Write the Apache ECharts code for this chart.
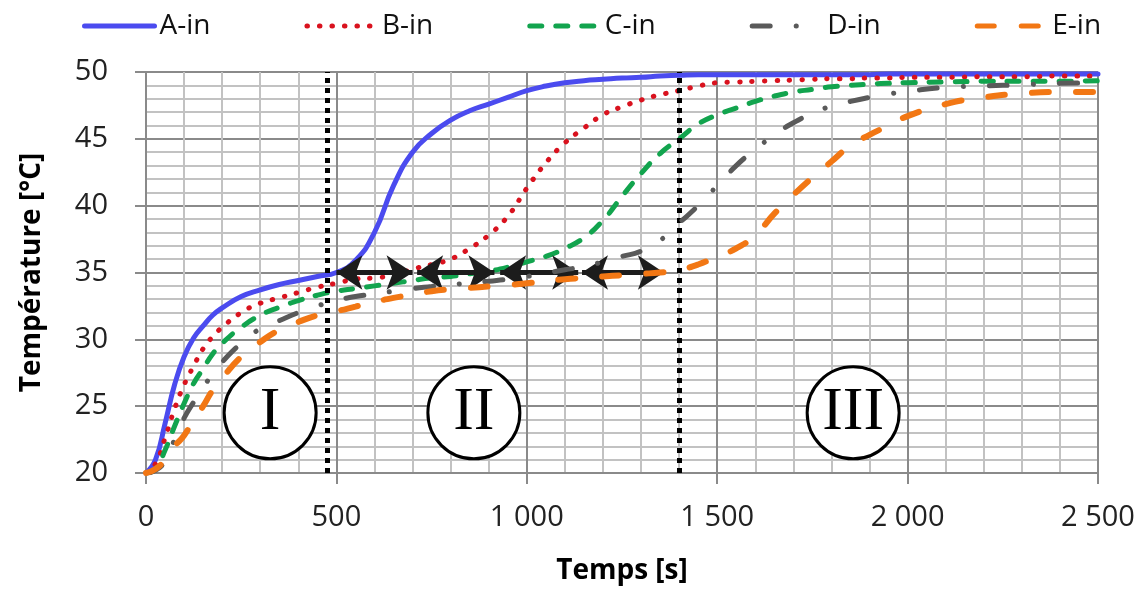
<!DOCTYPE html>
<html>
<head>
<meta charset="utf-8">
<script src="https://cdn.jsdelivr.net/npm/echarts@6/dist/echarts.min.js"></script>
<style>html,body{margin:0;padding:0;background:#fff}#c{width:1145px;height:590px}</style>
</head>
<body>
<div id="c"></div>
<script>
const times = [0,25,50,75,100,125,150,175,200,
  250,300,350,400,450,500,550,600,650,700,750,800,850,900,950,1000,1050,1100,1150,1200,
  1250,1300,1350,1400,1450,1500,1550,1600,1650,1700,1750,1800,1850,1900,1950,2000,
  2100,2200,2300,2400,2500];
const tempA = [20.0,21.0,23.7,26.6,28.7,30.1,31.0,31.8,32.35,
  33.2,33.7,34.1,34.4,34.7,35.0,35.9,38.0,41.5,44.0,45.4,46.4,47.1,47.6,48.1,48.6,48.95,49.2,49.35,49.45,
  49.55,49.6,49.7,49.75,49.8,49.8,49.8,49.8,49.8,49.8,49.8,49.8,49.8,49.8,49.85,49.85,
  49.85,49.85,49.85,49.85,49.85];
const tempB = [20.0,20.7,22.6,24.8,26.6,28.0,29.3,30.2,30.9,
  32.0,32.7,33.1,33.5,33.9,34.2,34.5,34.6,34.8,35.25,35.6,36.0,36.8,37.8,39.2,41.3,43.2,44.7,45.8,46.8,
  47.4,47.9,48.3,48.6,48.95,49.2,49.25,49.3,49.35,49.4,49.45,49.5,49.5,49.55,49.55,49.6,
  49.6,49.65,49.65,49.7,49.7];
const tempC = [20.0,20.3,21.7,23.5,25.2,26.7,27.8,28.9,29.7,
  30.9,31.8,32.4,32.9,33.3,33.6,33.8,34.0,34.2,34.4,34.6,34.7,34.9,35.1,35.4,35.8,36.2,36.8,37.6,38.9,
  40.7,42.4,43.9,45.0,46.1,46.8,47.3,47.8,48.2,48.5,48.7,48.9,49.0,49.1,49.15,49.2,
  49.25,49.3,49.3,49.3,49.35];
const tempD = [20.0,20.2,20.9,22.5,24.1,25.3,26.4,27.4,28.3,
  29.7,30.8,31.4,32.0,32.5,32.9,33.2,33.4,33.6,33.8,33.95,34.1,34.2,34.35,34.5,34.7,34.95,35.2,35.45,35.8,
  36.2,36.6,37.4,38.7,40.0,41.5,43.0,44.2,45.3,46.2,46.9,47.45,47.8,48.1,48.35,48.55,
  48.85,48.95,49.05,49.15,49.2];
const tempE = [20.0,20.3,21.0,22.0,22.8,24.0,25.0,26.2,27.1,
  28.7,29.8,30.7,31.3,31.8,32.1,32.45,32.8,33.1,33.35,33.6,33.75,33.85,33.95,34.05,34.2,34.35,34.5,34.6,34.7,
  34.8,34.9,35.0,35.2,35.6,36.2,36.8,37.8,39.4,40.8,42.1,43.3,44.5,45.3,46.0,46.7,
  47.6,48.1,48.4,48.5,48.5];
const seriesNames = ['A-in','B-in','C-in','D-in','E-in'];
const phaseBounds = [475, 1400];
const arrowLevel = 35;
const arrowSpans = [[500,700],[712,915],[930,1135],[1145,1360]];
const phaseLabels = ['I','II','III'];
const phaseCenters = [326, 861, 1857];
const phaseLevel = 24.5;
const xTitle = 'Temps [s]';
const yTitle = 'Température [°C]';

const allTemps = [tempA, tempB, tempC, tempD, tempE];
const styles = [
  {color:'#4B4BEF', width:5, type:'solid'},
  {color:'#D9121E', width:5, type:[0.5,12]},
  {color:'#12A44E', width:5, type:[12,14]},
  {color:'#5A5A5A', width:5, type:[18,26,0.1,26]},
  {color:'#F27714', width:6, type:[17,27]}
];

const chart = echarts.init(document.getElementById('c'));
const lineSeries = seriesNames.map((n,k)=>({
  name:n, type:'line', symbol:'none', smooth:0.5,
  data: times.map((t,i)=>[t, allTemps[k][i]]),
  lineStyle:{color:styles[k].color, width:styles[k].width, type:styles[k].type, cap:'round'},
  itemStyle:{color:styles[k].color},
  z: 2 + k
}));

const fmtThousands = v => String(v).replace(/\B(?=(\d{3})+(?!\d))/g, ' ');

chart.setOption({
  animation:false,
  textStyle:{fontFamily:'Open Sans'},
  legend:{
    data: seriesNames, left:82, top:12, itemWidth:70, itemHeight:14, itemGap:94, padding:0,
    itemStyle:{opacity:0},
    lineStyle:{width:5},
    textStyle:{fontSize:28, color:'#111', fontFamily:'Open Sans'}
  },
  grid:{left:146, right:47, top:72, bottom:117},
  xAxis:{
    type:'value', min:0, max:2500, interval:500,
    name:xTitle, nameLocation:'middle', nameGap:84,
    nameTextStyle:{fontSize:28, fontWeight:'bold', color:'#000'},
    axisLine:{show:true, lineStyle:{color:'#8a8a8a', width:2}},
    axisTick:{show:true, length:11, lineStyle:{color:'#8a8a8a', width:2}},
    axisLabel:{fontSize:29, color:'#222', margin:30, formatter:fmtThousands},
    splitLine:{show:true, lineStyle:{color:'#8a8a8a', width:2}},
    minorTick:{show:false, splitNumber:5},
    minorSplitLine:{show:true, lineStyle:{color:'#c2c2c2', width:2}}
  },
  yAxis:{
    type:'value', min:20, max:50, interval:5,
    name:yTitle, nameLocation:'middle', nameGap:100, nameRotate:90,
    nameTextStyle:{fontSize:28, fontWeight:'bold', color:'#000'},
    axisLine:{show:true, lineStyle:{color:'#8a8a8a', width:2}},
    axisTick:{show:true, length:11, lineStyle:{color:'#8a8a8a', width:2}},
    axisLabel:{fontSize:29, color:'#222', margin:38},
    splitLine:{show:true, lineStyle:{color:'#8a8a8a', width:2}},
    minorTick:{show:false, splitNumber:5},
    minorSplitLine:{show:true, lineStyle:{color:'#c2c2c2', width:2}}
  },
  series: lineSeries.concat([
    {
      name:'phases', type:'scatter', silent:true, z:10,
      data: phaseCenters.map((x,i)=>[x, phaseLevel, phaseLabels[i]]),
      symbol:'circle', symbolSize:92,
      itemStyle:{color:'#fff', borderColor:'#000', borderWidth:3, opacity:1},
      label:{show:true, position:'inside', formatter:p=>p.data[2],
        fontFamily:'Liberation Serif', fontSize:62, color:'#000'}
    },
    {
      name:'guides', type:'line', data:[], silent:true, z:12,
      markLine:{
        silent:true, symbol:'none', animation:false,
        label:{show:false},
        lineStyle:{color:'#000', width:5, type:[5,5], cap:'butt'},
        data: phaseBounds.map(x=>({xAxis:x}))
      }
    },
    {
      name:'arrows', type:'line', data:[], silent:true, z:13,
      markLine:{
        silent:true, symbol:['arrow','arrow'], symbolSize:26, animation:false,
        label:{show:false},
        lineStyle:{color:'#1c1c1c', width:5, type:'solid'},
        data: arrowSpans.map(s=>[{coord:[s[0],arrowLevel]},{coord:[s[1],arrowLevel]}])
      }
    }
  ])
});
</script>
</body>
</html>
